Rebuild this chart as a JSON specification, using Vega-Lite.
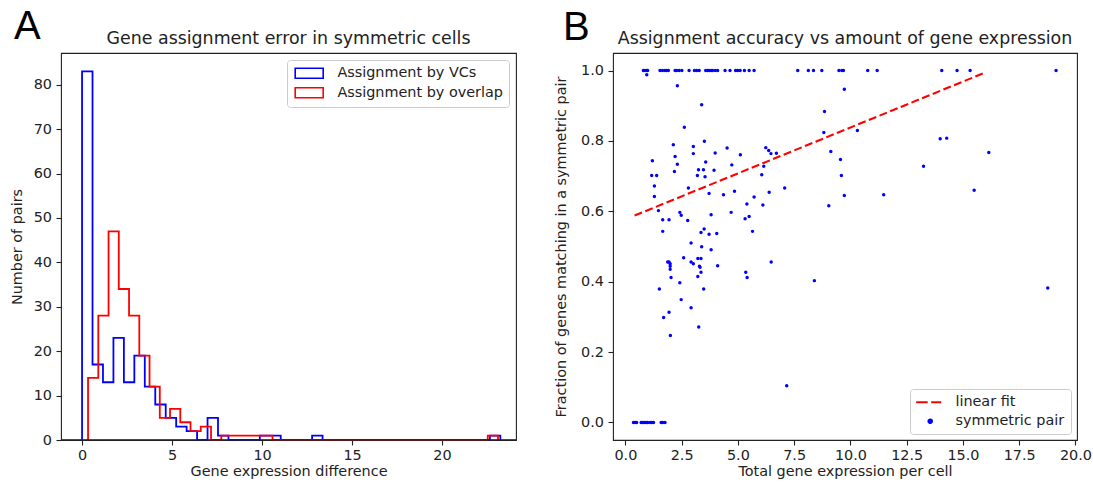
{
 "$schema": "https://vega.github.io/schema/vega-lite/v6.json",
 "background": "white",
 "padding": {"left": 8, "top": 6, "right": 5, "bottom": 5},
 "spacing": 34,
 "resolve": {"scale": {"color": "independent"}, "legend": {"color": "independent"}},
 "datasets": {
  "hist": [
   {"series": "Assignment by VCs", "k": 0, "edge": 0.0, "count": 0},
   {"series": "Assignment by VCs", "k": 1, "edge": 0.0, "count": 83},
   {"series": "Assignment by VCs", "k": 2, "edge": 0.581, "count": 17},
   {"series": "Assignment by VCs", "k": 3, "edge": 1.162, "count": 13},
   {"series": "Assignment by VCs", "k": 4, "edge": 1.743, "count": 23},
   {"series": "Assignment by VCs", "k": 5, "edge": 2.324, "count": 13},
   {"series": "Assignment by VCs", "k": 6, "edge": 2.905, "count": 19},
   {"series": "Assignment by VCs", "k": 7, "edge": 3.486, "count": 12},
   {"series": "Assignment by VCs", "k": 8, "edge": 4.067, "count": 8},
   {"series": "Assignment by VCs", "k": 9, "edge": 4.648, "count": 5},
   {"series": "Assignment by VCs", "k": 10, "edge": 5.229, "count": 3},
   {"series": "Assignment by VCs", "k": 11, "edge": 5.81, "count": 2},
   {"series": "Assignment by VCs", "k": 12, "edge": 6.391, "count": 0},
   {"series": "Assignment by VCs", "k": 13, "edge": 6.972, "count": 5},
   {"series": "Assignment by VCs", "k": 14, "edge": 7.553, "count": 1},
   {"series": "Assignment by VCs", "k": 15, "edge": 8.134, "count": 0},
   {"series": "Assignment by VCs", "k": 16, "edge": 8.715, "count": 0},
   {"series": "Assignment by VCs", "k": 17, "edge": 9.296, "count": 0},
   {"series": "Assignment by VCs", "k": 18, "edge": 9.877, "count": 1},
   {"series": "Assignment by VCs", "k": 19, "edge": 10.458, "count": 1},
   {"series": "Assignment by VCs", "k": 20, "edge": 11.039, "count": 0},
   {"series": "Assignment by VCs", "k": 21, "edge": 11.62, "count": 0},
   {"series": "Assignment by VCs", "k": 22, "edge": 12.201, "count": 0},
   {"series": "Assignment by VCs", "k": 23, "edge": 12.782, "count": 1},
   {"series": "Assignment by VCs", "k": 24, "edge": 13.363, "count": 0},
   {"series": "Assignment by VCs", "k": 25, "edge": 13.944, "count": 0},
   {"series": "Assignment by VCs", "k": 26, "edge": 14.525, "count": 0},
   {"series": "Assignment by VCs", "k": 27, "edge": 15.106, "count": 0},
   {"series": "Assignment by VCs", "k": 28, "edge": 15.687, "count": 0},
   {"series": "Assignment by VCs", "k": 29, "edge": 16.268, "count": 0},
   {"series": "Assignment by VCs", "k": 30, "edge": 16.849, "count": 0},
   {"series": "Assignment by VCs", "k": 31, "edge": 17.43, "count": 0},
   {"series": "Assignment by VCs", "k": 32, "edge": 18.011, "count": 0},
   {"series": "Assignment by VCs", "k": 33, "edge": 18.592, "count": 0},
   {"series": "Assignment by VCs", "k": 34, "edge": 19.173, "count": 0},
   {"series": "Assignment by VCs", "k": 35, "edge": 19.754, "count": 0},
   {"series": "Assignment by VCs", "k": 36, "edge": 20.335, "count": 0},
   {"series": "Assignment by VCs", "k": 37, "edge": 20.916, "count": 0},
   {"series": "Assignment by VCs", "k": 38, "edge": 21.497, "count": 0},
   {"series": "Assignment by VCs", "k": 39, "edge": 22.078, "count": 0},
   {"series": "Assignment by VCs", "k": 40, "edge": 22.659, "count": 1},
   {"series": "Assignment by VCs", "k": 41, "edge": 23.24, "count": 0},
   {"series": "Assignment by overlap", "k": 0, "edge": 0.333, "count": 0},
   {"series": "Assignment by overlap", "k": 1, "edge": 0.333, "count": 14},
   {"series": "Assignment by overlap", "k": 2, "edge": 0.902, "count": 28},
   {"series": "Assignment by overlap", "k": 3, "edge": 1.472, "count": 47},
   {"series": "Assignment by overlap", "k": 4, "edge": 2.041, "count": 34},
   {"series": "Assignment by overlap", "k": 5, "edge": 2.611, "count": 28},
   {"series": "Assignment by overlap", "k": 6, "edge": 3.18, "count": 19},
   {"series": "Assignment by overlap", "k": 7, "edge": 3.749, "count": 12},
   {"series": "Assignment by overlap", "k": 8, "edge": 4.319, "count": 5},
   {"series": "Assignment by overlap", "k": 9, "edge": 4.888, "count": 7},
   {"series": "Assignment by overlap", "k": 10, "edge": 5.458, "count": 4},
   {"series": "Assignment by overlap", "k": 11, "edge": 6.027, "count": 2},
   {"series": "Assignment by overlap", "k": 12, "edge": 6.596, "count": 3},
   {"series": "Assignment by overlap", "k": 13, "edge": 7.166, "count": 0},
   {"series": "Assignment by overlap", "k": 14, "edge": 7.735, "count": 1},
   {"series": "Assignment by overlap", "k": 15, "edge": 8.305, "count": 1},
   {"series": "Assignment by overlap", "k": 16, "edge": 8.874, "count": 1},
   {"series": "Assignment by overlap", "k": 17, "edge": 9.443, "count": 1},
   {"series": "Assignment by overlap", "k": 18, "edge": 10.013, "count": 1},
   {"series": "Assignment by overlap", "k": 19, "edge": 10.582, "count": 0},
   {"series": "Assignment by overlap", "k": 20, "edge": 11.152, "count": 0},
   {"series": "Assignment by overlap", "k": 21, "edge": 11.721, "count": 0},
   {"series": "Assignment by overlap", "k": 22, "edge": 12.29, "count": 0},
   {"series": "Assignment by overlap", "k": 23, "edge": 12.86, "count": 0},
   {"series": "Assignment by overlap", "k": 24, "edge": 13.429, "count": 0},
   {"series": "Assignment by overlap", "k": 25, "edge": 13.999, "count": 0},
   {"series": "Assignment by overlap", "k": 26, "edge": 14.568, "count": 0},
   {"series": "Assignment by overlap", "k": 27, "edge": 15.137, "count": 0},
   {"series": "Assignment by overlap", "k": 28, "edge": 15.707, "count": 0},
   {"series": "Assignment by overlap", "k": 29, "edge": 16.276, "count": 0},
   {"series": "Assignment by overlap", "k": 30, "edge": 16.846, "count": 0},
   {"series": "Assignment by overlap", "k": 31, "edge": 17.415, "count": 0},
   {"series": "Assignment by overlap", "k": 32, "edge": 17.984, "count": 0},
   {"series": "Assignment by overlap", "k": 33, "edge": 18.554, "count": 0},
   {"series": "Assignment by overlap", "k": 34, "edge": 19.123, "count": 0},
   {"series": "Assignment by overlap", "k": 35, "edge": 19.693, "count": 0},
   {"series": "Assignment by overlap", "k": 36, "edge": 20.262, "count": 0},
   {"series": "Assignment by overlap", "k": 37, "edge": 20.831, "count": 0},
   {"series": "Assignment by overlap", "k": 38, "edge": 21.401, "count": 0},
   {"series": "Assignment by overlap", "k": 39, "edge": 21.97, "count": 0},
   {"series": "Assignment by overlap", "k": 40, "edge": 22.54, "count": 1},
   {"series": "Assignment by overlap", "k": 41, "edge": 23.11, "count": 0}
  ],
  "fit": [
   {"total": 0.41, "fraction": 0.588, "series": "linear fit"},
   {"total": 15.97, "fraction": 0.994, "series": "linear fit"}
  ],
  "scatter": [
   {"total": 0.80, "fraction": 1.0, "series": "symmetric pair"}, {"total": 0.87, "fraction": 1.0, "series": "symmetric pair"},
   {"total": 0.95, "fraction": 1.0, "series": "symmetric pair"}, {"total": 0.99, "fraction": 1.0, "series": "symmetric pair"},
   {"total": 0.95, "fraction": 0.988, "series": "symmetric pair"},
   {"total": 1.54, "fraction": 1.0, "series": "symmetric pair"}, {"total": 1.65, "fraction": 1.0, "series": "symmetric pair"},
   {"total": 1.76, "fraction": 1.0, "series": "symmetric pair"}, {"total": 1.84, "fraction": 1.0, "series": "symmetric pair"},
   {"total": 1.91, "fraction": 1.0, "series": "symmetric pair"}, {"total": 2.21, "fraction": 1.0, "series": "symmetric pair"},
   {"total": 2.28, "fraction": 1.0, "series": "symmetric pair"}, {"total": 2.39, "fraction": 1.0, "series": "symmetric pair"},
   {"total": 2.51, "fraction": 1.0, "series": "symmetric pair"}, {"total": 2.83, "fraction": 1.0, "series": "symmetric pair"},
   {"total": 3.07, "fraction": 1.0, "series": "symmetric pair"}, {"total": 3.17, "fraction": 1.0, "series": "symmetric pair"},
   {"total": 3.28, "fraction": 1.0, "series": "symmetric pair"}, {"total": 3.57, "fraction": 1.0, "series": "symmetric pair"},
   {"total": 3.66, "fraction": 1.0, "series": "symmetric pair"}, {"total": 3.72, "fraction": 1.0, "series": "symmetric pair"},
   {"total": 3.81, "fraction": 1.0, "series": "symmetric pair"}, {"total": 3.87, "fraction": 1.0, "series": "symmetric pair"},
   {"total": 3.99, "fraction": 1.0, "series": "symmetric pair"}, {"total": 4.10, "fraction": 1.0, "series": "symmetric pair"},
   {"total": 4.43, "fraction": 1.0, "series": "symmetric pair"}, {"total": 4.65, "fraction": 1.0, "series": "symmetric pair"},
   {"total": 4.90, "fraction": 1.0, "series": "symmetric pair"}, {"total": 4.99, "fraction": 1.0, "series": "symmetric pair"},
   {"total": 5.10, "fraction": 1.0, "series": "symmetric pair"}, {"total": 5.29, "fraction": 1.0, "series": "symmetric pair"},
   {"total": 5.50, "fraction": 1.0, "series": "symmetric pair"}, {"total": 5.72, "fraction": 1.0, "series": "symmetric pair"},
   {"total": 7.66, "fraction": 1.0, "series": "symmetric pair"}, {"total": 8.13, "fraction": 1.0, "series": "symmetric pair"},
   {"total": 8.36, "fraction": 1.0, "series": "symmetric pair"}, {"total": 8.73, "fraction": 1.0, "series": "symmetric pair"},
   {"total": 9.49, "fraction": 1.0, "series": "symmetric pair"}, {"total": 9.62, "fraction": 1.0, "series": "symmetric pair"},
   {"total": 9.69, "fraction": 1.0, "series": "symmetric pair"}, {"total": 10.77, "fraction": 1.0, "series": "symmetric pair"},
   {"total": 11.19, "fraction": 1.0, "series": "symmetric pair"}, {"total": 14.06, "fraction": 1.0, "series": "symmetric pair"},
   {"total": 14.74, "fraction": 1.0, "series": "symmetric pair"}, {"total": 15.32, "fraction": 1.0, "series": "symmetric pair"},
   {"total": 19.14, "fraction": 1.0, "series": "symmetric pair"},
   {"total": 2.31, "fraction": 0.957, "series": "symmetric pair"}, {"total": 3.39, "fraction": 0.903, "series": "symmetric pair"},
   {"total": 9.73, "fraction": 0.947, "series": "symmetric pair"}, {"total": 8.85, "fraction": 0.884, "series": "symmetric pair"},
   {"total": 2.62, "fraction": 0.839, "series": "symmetric pair"}, {"total": 8.82, "fraction": 0.824, "series": "symmetric pair"},
   {"total": 10.31, "fraction": 0.830, "series": "symmetric pair"}, {"total": 13.99, "fraction": 0.806, "series": "symmetric pair"},
   {"total": 14.28, "fraction": 0.808, "series": "symmetric pair"}, {"total": 2.13, "fraction": 0.789, "series": "symmetric pair"},
   {"total": 3.02, "fraction": 0.784, "series": "symmetric pair"}, {"total": 3.51, "fraction": 0.799, "series": "symmetric pair"},
   {"total": 4.52, "fraction": 0.780, "series": "symmetric pair"}, {"total": 6.24, "fraction": 0.781, "series": "symmetric pair"},
   {"total": 6.37, "fraction": 0.773, "series": "symmetric pair"}, {"total": 6.47, "fraction": 0.764, "series": "symmetric pair"},
   {"total": 6.71, "fraction": 0.765, "series": "symmetric pair"}, {"total": 3.99, "fraction": 0.766, "series": "symmetric pair"},
   {"total": 5.11, "fraction": 0.761, "series": "symmetric pair"}, {"total": 3.02, "fraction": 0.764, "series": "symmetric pair"},
   {"total": 1.20, "fraction": 0.744, "series": "symmetric pair"}, {"total": 2.21, "fraction": 0.756, "series": "symmetric pair"},
   {"total": 3.57, "fraction": 0.740, "series": "symmetric pair"}, {"total": 2.31, "fraction": 0.734, "series": "symmetric pair"},
   {"total": 4.73, "fraction": 0.732, "series": "symmetric pair"}, {"total": 6.15, "fraction": 0.728, "series": "symmetric pair"},
   {"total": 9.13, "fraction": 0.770, "series": "symmetric pair"}, {"total": 16.15, "fraction": 0.767, "series": "symmetric pair"},
   {"total": 9.56, "fraction": 0.747, "series": "symmetric pair"}, {"total": 13.25, "fraction": 0.728, "series": "symmetric pair"},
   {"total": 9.60, "fraction": 0.702, "series": "symmetric pair"}, {"total": 2.18, "fraction": 0.713, "series": "symmetric pair"},
   {"total": 3.25, "fraction": 0.718, "series": "symmetric pair"}, {"total": 3.47, "fraction": 0.718, "series": "symmetric pair"},
   {"total": 3.94, "fraction": 0.717, "series": "symmetric pair"}, {"total": 1.17, "fraction": 0.702, "series": "symmetric pair"},
   {"total": 1.39, "fraction": 0.702, "series": "symmetric pair"}, {"total": 3.20, "fraction": 0.702, "series": "symmetric pair"},
   {"total": 3.54, "fraction": 0.698, "series": "symmetric pair"}, {"total": 6.06, "fraction": 0.704, "series": "symmetric pair"},
   {"total": 1.29, "fraction": 0.672, "series": "symmetric pair"}, {"total": 2.80, "fraction": 0.666, "series": "symmetric pair"},
   {"total": 7.08, "fraction": 0.666, "series": "symmetric pair"}, {"total": 3.72, "fraction": 0.651, "series": "symmetric pair"},
   {"total": 4.36, "fraction": 0.647, "series": "symmetric pair"}, {"total": 4.85, "fraction": 0.657, "series": "symmetric pair"},
   {"total": 6.39, "fraction": 0.654, "series": "symmetric pair"}, {"total": 1.29, "fraction": 0.642, "series": "symmetric pair"},
   {"total": 5.72, "fraction": 0.641, "series": "symmetric pair"}, {"total": 9.73, "fraction": 0.645, "series": "symmetric pair"},
   {"total": 11.48, "fraction": 0.647, "series": "symmetric pair"}, {"total": 15.50, "fraction": 0.660, "series": "symmetric pair"},
   {"total": 9.04, "fraction": 0.616, "series": "symmetric pair"}, {"total": 1.47, "fraction": 0.602, "series": "symmetric pair"},
   {"total": 4.70, "fraction": 0.597, "series": "symmetric pair"}, {"total": 5.40, "fraction": 0.621, "series": "symmetric pair"},
   {"total": 6.11, "fraction": 0.618, "series": "symmetric pair"}, {"total": 2.42, "fraction": 0.597, "series": "symmetric pair"},
   {"total": 2.48, "fraction": 0.589, "series": "symmetric pair"}, {"total": 3.81, "fraction": 0.590, "series": "symmetric pair"},
   {"total": 1.66, "fraction": 0.576, "series": "symmetric pair"}, {"total": 1.94, "fraction": 0.576, "series": "symmetric pair"},
   {"total": 2.77, "fraction": 0.574, "series": "symmetric pair"}, {"total": 5.32, "fraction": 0.579, "series": "symmetric pair"},
   {"total": 5.50, "fraction": 0.585, "series": "symmetric pair"}, {"total": 1.66, "fraction": 0.543, "series": "symmetric pair"},
   {"total": 3.36, "fraction": 0.540, "series": "symmetric pair"}, {"total": 3.50, "fraction": 0.550, "series": "symmetric pair"},
   {"total": 3.72, "fraction": 0.535, "series": "symmetric pair"}, {"total": 4.06, "fraction": 0.537, "series": "symmetric pair"},
   {"total": 5.65, "fraction": 0.543, "series": "symmetric pair"}, {"total": 2.92, "fraction": 0.510, "series": "symmetric pair"},
   {"total": 3.39, "fraction": 0.499, "series": "symmetric pair"}, {"total": 3.81, "fraction": 0.491, "series": "symmetric pair"},
   {"total": 2.59, "fraction": 0.468, "series": "symmetric pair"}, {"total": 2.92, "fraction": 0.456, "series": "symmetric pair"},
   {"total": 3.02, "fraction": 0.451, "series": "symmetric pair"}, {"total": 1.88, "fraction": 0.456, "series": "symmetric pair"},
   {"total": 1.94, "fraction": 0.456, "series": "symmetric pair"}, {"total": 1.99, "fraction": 0.451, "series": "symmetric pair"},
   {"total": 1.99, "fraction": 0.444, "series": "symmetric pair"}, {"total": 1.99, "fraction": 0.435, "series": "symmetric pair"},
   {"total": 2.03, "fraction": 0.412, "series": "symmetric pair"}, {"total": 3.22, "fraction": 0.466, "series": "symmetric pair"},
   {"total": 3.36, "fraction": 0.466, "series": "symmetric pair"}, {"total": 3.29, "fraction": 0.444, "series": "symmetric pair"},
   {"total": 3.32, "fraction": 0.441, "series": "symmetric pair"}, {"total": 3.36, "fraction": 0.427, "series": "symmetric pair"},
   {"total": 3.22, "fraction": 0.415, "series": "symmetric pair"}, {"total": 4.10, "fraction": 0.445, "series": "symmetric pair"},
   {"total": 6.48, "fraction": 0.456, "series": "symmetric pair"}, {"total": 5.35, "fraction": 0.427, "series": "symmetric pair"},
   {"total": 5.41, "fraction": 0.412, "series": "symmetric pair"}, {"total": 2.42, "fraction": 0.397, "series": "symmetric pair"},
   {"total": 1.51, "fraction": 0.379, "series": "symmetric pair"}, {"total": 3.48, "fraction": 0.379, "series": "symmetric pair"},
   {"total": 2.48, "fraction": 0.349, "series": "symmetric pair"}, {"total": 2.92, "fraction": 0.326, "series": "symmetric pair"},
   {"total": 1.94, "fraction": 0.313, "series": "symmetric pair"}, {"total": 1.70, "fraction": 0.298, "series": "symmetric pair"},
   {"total": 3.26, "fraction": 0.271, "series": "symmetric pair"}, {"total": 2.00, "fraction": 0.247, "series": "symmetric pair"},
   {"total": 8.40, "fraction": 0.403, "series": "symmetric pair"}, {"total": 18.77, "fraction": 0.382, "series": "symmetric pair"},
   {"total": 7.17, "fraction": 0.104, "series": "symmetric pair"},
   {"total": 0.36, "fraction": 0.0, "series": "symmetric pair"}, {"total": 0.43, "fraction": 0.0, "series": "symmetric pair"},
   {"total": 0.50, "fraction": 0.0, "series": "symmetric pair"}, {"total": 0.70, "fraction": 0.0, "series": "symmetric pair"},
   {"total": 0.77, "fraction": 0.0, "series": "symmetric pair"}, {"total": 0.85, "fraction": 0.0, "series": "symmetric pair"},
   {"total": 0.92, "fraction": 0.0, "series": "symmetric pair"}, {"total": 0.99, "fraction": 0.0, "series": "symmetric pair"},
   {"total": 1.10, "fraction": 0.0, "series": "symmetric pair"}, {"total": 1.17, "fraction": 0.0, "series": "symmetric pair"},
   {"total": 1.25, "fraction": 0.0, "series": "symmetric pair"}, {"total": 1.59, "fraction": 0.0, "series": "symmetric pair"},
   {"total": 1.66, "fraction": 0.0, "series": "symmetric pair"}, {"total": 1.76, "fraction": 0.0, "series": "symmetric pair"}
  ]
 },
 "config": {
  "font": "DejaVu Sans",
  "view": {"stroke": "#222", "strokeWidth": 1.1},
  "title": {"font": "DejaVu Sans", "fontSize": 17.4, "fontWeight": "normal", "color": "#222", "frame": "group", "offset": -40},
  "axis": {"domain": false, "grid": false, "tickColor": "#222", "tickSize": 5, "tickWidth": 1.1,
           "labelFont": "DejaVu Sans", "labelFontSize": 14.4, "labelColor": "#222",
           "titleFont": "DejaVu Sans", "titleFontSize": 14.4, "titleFontWeight": "normal", "titleColor": "#222"},
  "axisX": {"labelPadding": 3, "titlePadding": 3, "labelFlush": false, "labelOverlap": false},
  "axisY": {"labelPadding": 4.5, "labelOverlap": false},
  "legend": {"labelFont": "DejaVu Sans", "labelFontSize": 14.4, "labelColor": "#222", "labelLimit": 400, "padding": 6, "rowPadding": 2.5,
             "strokeColor": "#cccccc", "fillColor": "rgba(255,255,255,0.8)", "cornerRadius": 3,
             "symbolSize": 100, "symbolOffset": 9, "labelOffset": 21, "symbolStrokeWidth": 1.6}
 },
 "hconcat": [
  {
   "width": 455, "height": 387,
   "title": {"text": "Gene assignment error in symmetric cells"},
   "layer": [
    {
     "data": {"name": "hist"},
     "mark": {"type": "line", "interpolate": "step-after", "strokeWidth": 1.8},
     "encoding": {
      "x": {"field": "edge", "type": "quantitative", "scale": {"domain": [-1.17, 24.11], "nice": false, "zero": false},
            "axis": {"values": [0, 5, 10, 15, 20], "title": "Gene expression difference"}},
      "y": {"field": "count", "type": "quantitative", "scale": {"domain": [0, 87.15], "nice": false},
            "axis": {"values": [0, 10, 20, 30, 40, 50, 60, 70, 80], "title": "Number of pairs", "minExtent": 28, "maxExtent": 28, "titlePadding": 9}},
      "color": {"field": "series", "type": "nominal",
                "scale": {"domain": ["Assignment by VCs", "Assignment by overlap"], "range": ["#0000ff", "#ff0000"]},
                "legend": {"title": null, "orient": "top-right", "offset": 7, "symbolType": "M-2.8,-1H2.8V1H-2.8Z",
                           "encode": {"symbols": {"update": {"fill": {"value": "transparent"}, "shape": {"value": "M-2.8,-1H2.8V1H-2.8Z"}}}}}},
      "order": {"field": "k", "type": "quantitative"}
     }
    },
    {
     "data": {"values": [{"base": 0}]},
     "mark": {"type": "rule", "color": "#222", "strokeWidth": 1.3},
     "encoding": {"y": {"field": "base", "type": "quantitative"}}
    },
    {
     "data": {"values": [{"panel": "A"}]},
     "mark": {"type": "text", "font": "Liberation Sans", "fontSize": 40, "align": "left", "baseline": "alphabetic", "color": "#000"},
     "encoding": {"x": {"datum": -3.78}, "y": {"datum": 90.2}, "text": {"field": "panel"}}
    }
   ]
  },
  {
   "width": 464, "height": 387,
   "title": {"text": "Assignment accuracy vs amount of gene expression"},
   "layer": [
    {
     "data": {"name": "fit"},
     "mark": {"type": "line", "strokeDash": [8, 3.5], "strokeWidth": 2.1},
     "encoding": {
      "x": {"field": "total", "type": "quantitative", "scale": {"domain": [-0.55, 20.07], "nice": false, "zero": false},
            "axis": {"values": [0, 2.5, 5, 7.5, 10, 12.5, 15, 17.5, 20], "format": ".1f", "title": "Total gene expression per cell"}},
      "y": {"field": "fraction", "type": "quantitative", "scale": {"domain": [-0.05, 1.05], "nice": false, "zero": false},
            "axis": {"values": [0, 0.2, 0.4, 0.6, 0.8, 1.0], "format": ".1f", "title": "Fraction of genes matching in a symmetric pair", "minExtent": 33, "maxExtent": 33, "titlePadding": 11.5}},
      "color": {"field": "series", "type": "nominal",
                "scale": {"domain": ["linear fit", "symmetric pair"], "range": ["#ff0000", "#0000ff"]},
                "legend": {"title": null, "orient": "bottom-right", "offset": 6.5, "padding": 6, "rowPadding": 4, "labelOffset": 18, "symbolOffset": 7,
                           "encode": {"symbols": {"update": {
                             "shape": [{"test": "datum.value === 'linear fit'", "value": "M-2.8,0H2.2"}, {"value": "M-0.36,0A0.36,0.36 0 1,0 0.36,0A0.36,0.36 0 1,0 -0.36,0Z"}],
                             "stroke": [{"test": "datum.value === 'linear fit'", "value": "#ff0000"}, {"value": "transparent"}],
                             "fill": [{"test": "datum.value === 'linear fit'", "value": "transparent"}, {"value": "#0000ff"}],
                             "strokeDash": [{"test": "datum.value === 'linear fit'", "value": [11.5, 3.5]}, {"value": [1, 0]}],
                             "strokeWidth": {"value": 2}
                           }}}}}
     }
    },
    {
     "data": {"name": "scatter"},
     "mark": {"type": "circle", "size": 12, "opacity": 1},
     "encoding": {
      "x": {"field": "total", "type": "quantitative"},
      "y": {"field": "fraction", "type": "quantitative"},
      "color": {"field": "series", "type": "nominal"}
     }
    },
    {
     "data": {"values": [{"panel": "B"}]},
     "mark": {"type": "text", "font": "Liberation Sans", "fontSize": 40, "align": "left", "baseline": "alphabetic", "color": "#000"},
     "encoding": {"x": {"datum": -2.77}, "y": {"datum": 1.088}, "text": {"field": "panel"}}
    }
   ]
  }
 ]
}
